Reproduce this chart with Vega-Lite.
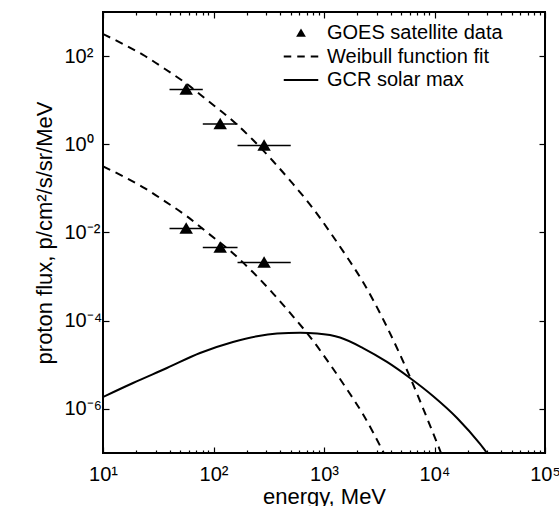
{
  "$schema": "https://vega.github.io/schema/vega-lite/v6.json",
  "width": 442,
  "height": 441,
  "autosize": {"type": "none"},
  "padding": {"left": 103, "top": 12, "right": 14, "bottom": 53},
  "datasets": {
    "weibullUpper": [
      {"energy": 10, "flux": 317},
      {"energy": 15.8, "flux": 179},
      {"energy": 24.0, "flux": 100.5},
      {"energy": 36.4, "flux": 50.9},
      {"energy": 57.5, "flux": 23.3},
      {"energy": 87.3, "flux": 10.1},
      {"energy": 150, "flux": 3.38},
      {"energy": 228, "flux": 1.25},
      {"energy": 345, "flux": 0.418},
      {"energy": 524, "flux": 0.126},
      {"energy": 778, "flux": 0.0378},
      {"energy": 1132, "flux": 0.01026},
      {"energy": 1614, "flux": 0.00278},
      {"energy": 2254, "flux": 0.000755},
      {"energy": 3565, "flux": 0.0000887},
      {"energy": 5998, "flux": 0.00000528},
      {"energy": 8551, "flux": 0.000000622},
      {"energy": 11455, "flux": 0.0000001}
    ],
    "weibullLower": [
      {"energy": 10, "flux": 0.317},
      {"energy": 15.8, "flux": 0.179},
      {"energy": 24.0, "flux": 0.1005},
      {"energy": 36.4, "flux": 0.0509},
      {"energy": 57.5, "flux": 0.0233},
      {"energy": 87.3, "flux": 0.0101},
      {"energy": 150, "flux": 0.00338},
      {"energy": 228, "flux": 0.00125},
      {"energy": 345, "flux": 0.000418},
      {"energy": 524, "flux": 0.000126},
      {"energy": 778, "flux": 0.0000378},
      {"energy": 1132, "flux": 0.00001026},
      {"energy": 1614, "flux": 0.00000278},
      {"energy": 2254, "flux": 0.000000755},
      {"energy": 3475, "flux": 0.0000001}
    ],
    "gcr": [
      {"energy": 10, "flux": 0.00000186},
      {"energy": 18.7, "flux": 0.00000386},
      {"energy": 37.9, "flux": 0.00000845},
      {"energy": 75.5, "flux": 0.0000185},
      {"energy": 150, "flux": 0.0000329},
      {"energy": 248, "flux": 0.0000445},
      {"energy": 376, "flux": 0.000051},
      {"energy": 607, "flux": 0.000053},
      {"energy": 866, "flux": 0.000051},
      {"energy": 1396, "flux": 0.0000415},
      {"energy": 2254, "flux": 0.000024},
      {"energy": 3715, "flux": 0.0000116},
      {"energy": 5998, "flux": 0.00000502},
      {"energy": 9683, "flux": 0.00000196},
      {"energy": 15996, "flux": 0.000000622},
      {"energy": 25820, "flux": 0.00000016},
      {"energy": 29854, "flux": 0.0000001}
    ],
    "goes": [
      {"series": "GOES satellite data", "energy": 56.6, "emin": 40, "emax": 80, "flux": 17.5},
      {"series": "GOES satellite data", "energy": 115, "emin": 80, "emax": 165, "flux": 2.88},
      {"series": "GOES satellite data", "energy": 287, "emin": 165, "emax": 500, "flux": 0.94},
      {"series": "GOES satellite data", "energy": 56.6, "emin": 40, "emax": 80, "flux": 0.0123},
      {"series": "GOES satellite data", "energy": 115, "emin": 80, "emax": 165, "flux": 0.00457},
      {"series": "GOES satellite data", "energy": 287, "emin": 165, "emax": 500, "flux": 0.00209}
    ]
  },
  "config": {
    "view": {"stroke": "black", "strokeWidth": 2},
    "axis": {
      "domain": false,
      "grid": false,
      "labelFont": "Liberation Sans",
      "labelFontSize": 20,
      "labelColor": "black",
      "tickColor": "black",
      "tickWidth": 1.2,
      "titleFont": "Liberation Sans",
      "titleFontSize": 22,
      "titleFontWeight": "normal",
      "titleColor": "black",
      "labelFlush": false,
      "labelOverlap": false
    }
  },
  "resolve": {"axis": {"x": "independent", "y": "independent"}},
  "layer": [
    {
      "data": {"name": "weibullUpper"},
      "mark": {"type": "line", "strokeDash": [8, 6], "strokeWidth": 2, "color": "black", "interpolate": "monotone", "clip": true},
      "encoding": {
        "x": {
          "field": "energy", "type": "quantitative",
          "scale": {"type": "log", "domain": [10, 100000], "nice": false},
          "axis": {
            "orient": "bottom", "values": [10, 100, 1000, 10000, 100000], "ticks": false,
            "labelPadding": 11, "labelExpr": "datum.value < 50 ? '10¹' : datum.value < 500 ? '10²' : datum.value < 5000 ? '10³' : datum.value < 50000 ? '10⁴' : '10⁵'",
            "title": "energy, MeV", "titlePadding": 2
          }
        },
        "y": {
          "field": "flux", "type": "quantitative",
          "scale": {"type": "log", "domain": [0.0000001, 1000], "nice": false},
          "axis": {
            "orient": "left", "values": [100, 1, 0.01, 0.0001, 0.000001], "ticks": false,
            "labelAlign": "left", "labelBaseline": "middle", "labelPadding": 39,
            "labelExpr": "datum.value > 10 ? '10²' : datum.value > 0.1 ? '10⁰' : datum.value > 0.001 ? '10⁻²' : datum.value > 0.00001 ? '10⁻⁴' : '10⁻⁶'",
            "title": "proton flux, p/cm²/s/sr/MeV", "titlePadding": 8
          }
        }
      }
    },
    {
      "data": {"name": "weibullLower"},
      "mark": {"type": "line", "strokeDash": [8, 6], "strokeWidth": 2, "color": "black", "interpolate": "monotone", "clip": true},
      "encoding": {
        "x": {
          "field": "energy", "type": "quantitative",
          "axis": {"orient": "bottom", "values": [10, 100, 1000, 10000, 100000], "tickSize": -6, "labels": false, "title": null}
        },
        "y": {
          "field": "flux", "type": "quantitative",
          "axis": {"orient": "left", "values": [100, 1, 0.01, 0.0001, 0.000001], "tickSize": -6, "labels": false, "title": null}
        }
      }
    },
    {
      "data": {"name": "gcr"},
      "mark": {"type": "line", "strokeWidth": 2, "color": "black", "interpolate": "monotone", "clip": true},
      "encoding": {
        "x": {
          "field": "energy", "type": "quantitative",
          "axis": {"orient": "bottom", "values": [20, 30, 40, 50, 60, 70, 80, 90, 200, 300, 400, 500, 600, 700, 800, 900, 2000, 3000, 4000, 5000, 6000, 7000, 8000, 9000, 20000, 30000, 40000, 50000, 60000, 70000, 80000, 90000], "tickSize": -3, "labels": false, "title": null}
        },
        "y": {
          "field": "flux", "type": "quantitative",
          "axis": {"orient": "right", "values": [100, 1, 0.01, 0.0001, 0.000001], "tickSize": -6, "labels": false, "title": null}
        }
      }
    },
    {
      "data": {"name": "goes"},
      "mark": {"type": "rule", "strokeWidth": 1.6, "color": "black"},
      "encoding": {
        "x": {
          "field": "emin", "type": "quantitative",
          "axis": {"orient": "top", "values": [10, 100, 1000, 10000, 100000], "tickSize": -6, "labels": false, "title": null}
        },
        "x2": {"field": "emax"},
        "y": {"field": "flux", "type": "quantitative", "axis": null}
      }
    },
    {
      "data": {"name": "goes"},
      "mark": {"type": "point", "filled": true, "color": "black", "size": 430, "opacity": 1},
      "encoding": {
        "x": {
          "field": "energy", "type": "quantitative",
          "axis": {"orient": "top", "values": [20, 30, 40, 50, 60, 70, 80, 90, 200, 300, 400, 500, 600, 700, 800, 900, 2000, 3000, 4000, 5000, 6000, 7000, 8000, 9000, 20000, 30000, 40000, 50000, 60000, 70000, 80000, 90000], "tickSize": -3, "labels": false, "title": null}
        },
        "y": {"field": "flux", "type": "quantitative", "axis": null},
        "shape": {
          "field": "series", "type": "nominal",
          "scale": {
            "domain": ["GOES satellite data", "Weibull function fit", "GCR solar max"],
            "range": ["M0,-0.6L0.65,0.5L-0.65,0.5Z", "M-2.3,-0.13L-1.3,-0.13L-1.3,0.13L-2.3,0.13ZM-0.5,-0.13L0.5,-0.13L0.5,0.13L-0.5,0.13ZM1.3,-0.13L2.3,-0.13L2.3,0.13L1.3,0.13Z", "M-2.3,-0.13L2.3,-0.13L2.3,0.13L-2.3,0.13Z"]
          },
          "legend": {
            "orient": "none", "legendX": 188, "legendY": 11, "title": null,
            "symbolSize": 225, "symbolStrokeWidth": 0, "symbolFillColor": "black", "symbolStrokeColor": "black", "symbolOpacity": 1,
            "labelFont": "Liberation Sans", "labelFontSize": 20, "labelColor": "black", "labelOffset": 16, "labelLimit": 0,
            "rowPadding": 3.5, "padding": 0
          }
        }
      }
    }
  ]
}
